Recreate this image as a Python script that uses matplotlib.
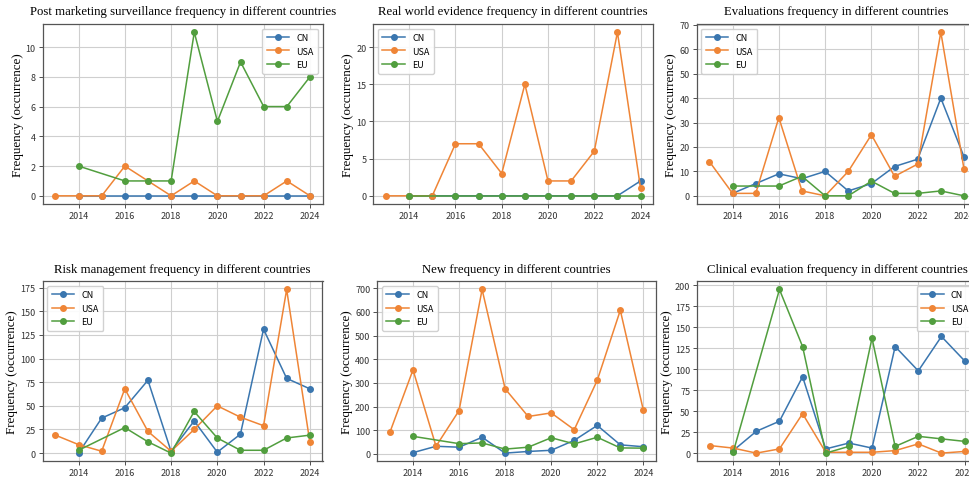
import numpy as np
import matplotlib
matplotlib.use("Agg")
import matplotlib.pyplot as plt
from matplotlib.ticker import MultipleLocator

# ---------------- data ----------------
years_all = [2013, 2014, 2015, 2016, 2017, 2018, 2019, 2020, 2021, 2022, 2023, 2024]
years_cn = [2014, 2015, 2016, 2017, 2018, 2019, 2020, 2021, 2022, 2023, 2024]
years_eu = [2014, 2016, 2017, 2018, 2019, 2020, 2021, 2022, 2023, 2024]

titles = [
    "Post marketing surveillance frequency in different countries",
    "Real world evidence frequency in different countries",
    "Evaluations frequency in different countries",
    "Risk management frequency in different countries",
    "New frequency in different countries",
    "Clinical evaluation frequency in different countries",
]

pms_cn = [0, 0, 0, 0, 0, 0, 0, 0, 0, 0, 0]
pms_usa = [0, 0, 0, 2, 1, 0, 1, 0, 0, 0, 1, 0]
pms_eu = [2, 1, 1, 1, 11, 5, 9, 6, 6, 8]

rwe_cn = [0, 0, 0, 0, 0, 0, 0, 0, 0, 0, 2]
rwe_usa = [0, 0, 0, 7, 7, 3, 15, 2, 2, 6, 22, 1]
rwe_eu = [0, 0, 0, 0, 0, 0, 0, 0, 0, 0]

eval_cn = [1, 5, 9, 7, 10, 2, 5, 12, 15, 40, 16]
eval_usa = [14, 1, 1, 32, 2, 0, 10, 25, 8, 13, 67, 11]
eval_eu = [4, 4, 8, 0, 0, 6, 1, 1, 2, 0]

risk_cn = [0, 37, 48, 77, 2, 34, 1, 20, 131, 79, 68]
risk_usa = [19, 9, 2, 68, 23, 2, 25, 50, 38, 29, 173, 12]
risk_eu = [3, 27, 12, 0, 44, 16, 3, 3, 16, 19]

new_cn = [5, 32, 28, 70, 3, 10, 15, 57, 120, 38, 30]
new_usa = [92, 355, 32, 183, 695, 275, 158, 173, 102, 311, 607, 185]
new_eu = [74, 43, 46, 20, 28, 68, 42, 70, 25, 24]

clin_cn = [3, 26, 38, 91, 5, 12, 6, 127, 98, 139, 110]
clin_usa = [9, 6, 0, 5, 47, 1, 1, 1, 3, 11, 0, 2]
clin_eu = [1, 195, 127, 0, 8, 137, 8, 20, 17, 14]

series = [
    (pms_cn, pms_usa, pms_eu),
    (rwe_cn, rwe_usa, rwe_eu),
    (eval_cn, eval_usa, eval_eu),
    (risk_cn, risk_usa, risk_eu),
    (new_cn, new_usa, new_eu),
    (clin_cn, clin_usa, clin_eu),
]
legend_names = ["CN", "USA", "EU"]
legend_locs = ["upper right", "upper left", "upper left", "upper left", "upper left", "upper right"]
ytick_steps = [2, 5, 10, 25, 100, 25]

# ---------------- figure ----------------
W, H = 970, 481
fig = plt.figure(figsize=(W / 100, H / 100), dpi=100)

# axes boxes in pixels: (left, top, right, bottom)
boxes = [
    (42.7, 25, 322.7, 205),
    (373.3, 25, 653.3, 205),
    (696.7, 25, 976.7, 205),
    (42.7, 282.3, 322.5, 462.3),
    (377.3, 282.3, 656.0, 462.3),
    (697.3, 282.3, 977.3, 462.3),
]

cjk = ["Noto Sans CJK SC", "DejaVu Sans"]
serif = ["Liberation Serif", "DejaVu Serif"]
colors = ["#3a76af", "#ef8536", "#519e3e"]

for i, (l, t, r, b) in enumerate(boxes):
    ax = fig.add_axes([l / W, 1 - b / H, (r - l) / W, (b - t) / H])
    cn, usa, eu = series[i]
    ax.plot(years_cn, cn, marker="o", color=colors[0], lw=1.1, ms=4, label=legend_names[0])
    ax.plot(years_all, usa, marker="o", color=colors[1], lw=1.1, ms=4, label=legend_names[1])
    ax.plot(years_eu, eu, marker="o", color=colors[2], lw=1.1, ms=4, label=legend_names[2])
    ax.set_title(titles[i], fontfamily=serif, fontsize=9.2, pad=7)
    ax.set_ylabel("Frequency (occurrence)", fontfamily=serif, fontsize=9.4, labelpad=1.5)
    ax.set_xticks([2014, 2016, 2018, 2020, 2022, 2024])
    ax.yaxis.set_major_locator(MultipleLocator(ytick_steps[i]))
    ax.grid(True, color="#cfcfcf", lw=0.8)
    ax.set_axisbelow(True)
    for lab in ax.get_xticklabels() + ax.get_yticklabels():
        lab.set_fontfamily(cjk)
        lab.set_fontsize(6.5)
    ax.tick_params(length=3, width=0.6, colors="#333333", pad=2)
    for s in ax.spines.values():
        s.set_color("#555555")
        s.set_linewidth(0.9)
    leg = ax.legend(loc=legend_locs[i], prop={"family": cjk, "size": 6.5},
                    framealpha=0.9, edgecolor="#cccccc", handlelength=2.5,
                    borderpad=0.5, labelspacing=0.5)

fig.savefig("out.png", dpi=100)
